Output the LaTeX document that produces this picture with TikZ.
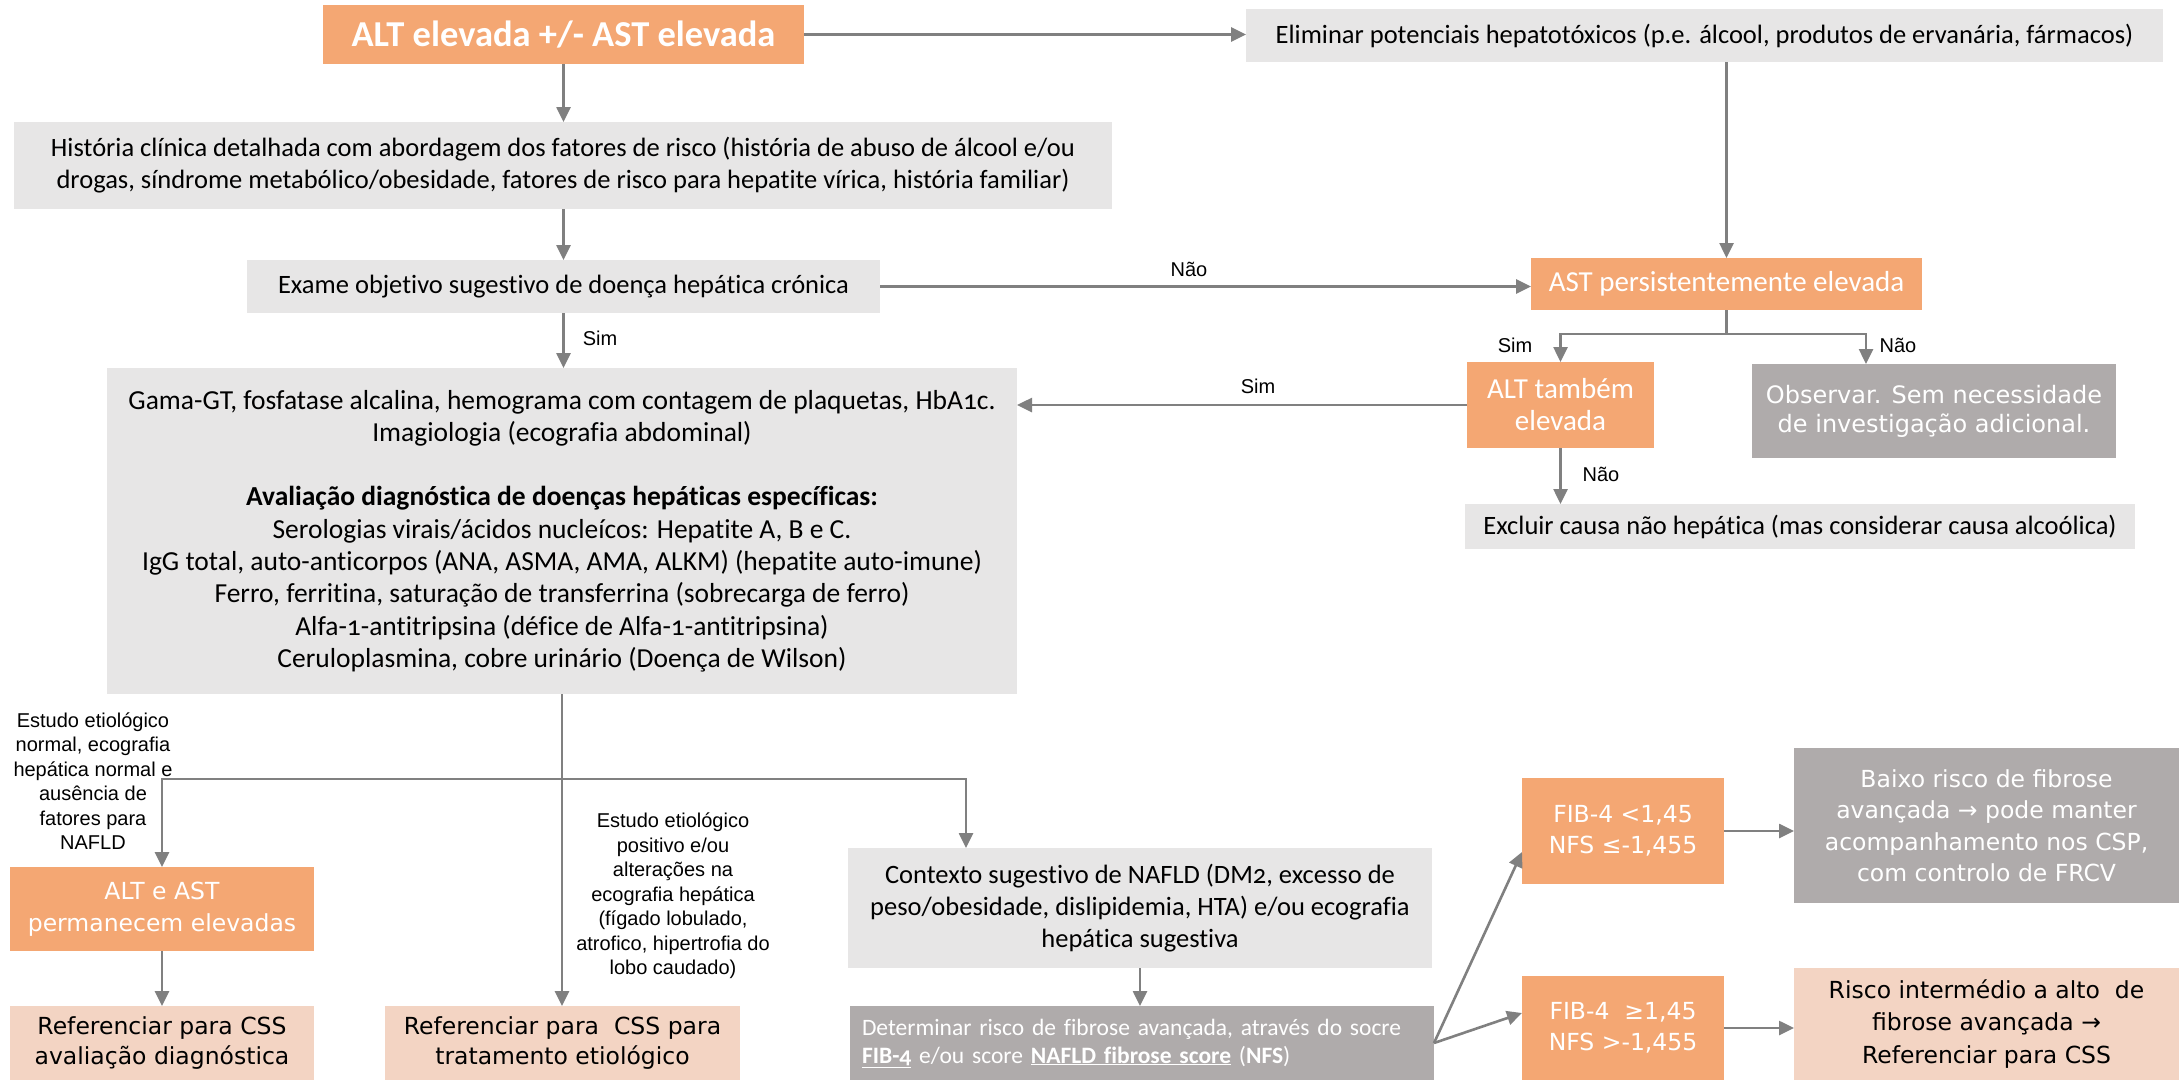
\documentclass[tikz,border=0pt]{standalone}
\usepackage{fontspec}
\setmainfont[Numbers=OldStyle,Ligatures=NoCommon]{Carlito}
\newfontfamily\dv{DejaVu Sans}
\newfontfamily\ar{Liberation Sans}
\usetikzlibrary{arrows.meta}
\definecolor{org}{HTML}{F4A773}
\definecolor{lgr}{HTML}{E7E6E6}
\definecolor{mgr}{HTML}{AFABAB}
\definecolor{pch}{HTML}{F3D4C3}
\definecolor{ln}{HTML}{808080}
\tikzset{
  wh/.style 2 args={minimum width=#1pt, minimum height=#2pt},
  box/.style={inner sep=0pt, outer sep=0pt, align=center, anchor=north west},
  light/.style={box, fill=lgr, text=black, font=\fontsize{26.5}{32}\selectfont},
  orgc/.style={box, fill=org, text=white, font=\fontsize{29}{32}\selectfont},
  orgd/.style={box, fill=org, text=white, font=\dv\fontsize{23.5}{31.5}\selectfont},
  pchd/.style={box, fill=pch, text=black, font=\dv\fontsize{23.5}{31.5}\selectfont},
  midd/.style={box, fill=mgr, text=white, font=\dv\fontsize{23.5}{31.5}\selectfont},
  lbl/.style={inner sep=0pt, align=center, font=\ar\fontsize{20}{24.5}\selectfont},
  arr/.style={draw=ln, line width=2.6pt, -{Triangle[length=15pt,width=14pt]}},
  ln/.style={draw=ln, line width=2.6pt}
}
\begin{document}
\begin{tikzpicture}[x=1pt,y=-1pt]
\useasboundingbox (0,0) rectangle (2179,1080);
\fill[white] (0,0) rectangle (2179,1080);

\node[orgc, font=\bfseries\fontsize{36.5}{40}\selectfont, wh={481}{59}] (alt) at (323,5) {ALT elevada +/- AST elevada};
\node[light, wh={917}{53}] (elim) at (1246,9) {Eliminar potenciais hepatotóxicos (p.e. álcool, produtos de ervanária, fármacos)};
\node[light, wh={1098}{87}] (hist) at (14,122) {História clínica detalhada com abordagem dos fatores de risco (história de abuso de álcool e/ou\\drogas, síndrome metabólico/obesidade, fatores de risco para hepatite vírica, história familiar)};
\node[light, wh={633}{53}] (exame) at (247,260) {Exame objetivo sugestivo de doença hepática crónica};
\node[orgc, wh={391}{52}] (ast) at (1531,258) {AST persistentemente elevada};
\node[light, font=\fontsize{27.5}{32.3}\selectfont, wh={910}{326}] (gama) at (107,368) {Gama-GT, fosfatase alcalina, hemograma com contagem de plaquetas, HbA1c.\\Imagiologia (ecografia abdominal)\\[32pt]
\textbf{Avaliação diagnóstica de doenças hepáticas específicas:}\\
Serologias virais/ácidos nucleícos: Hepatite A, B e C.\\
IgG total, auto-anticorpos (ANA, ASMA, AMA, ALKM) (hepatite auto-imune)\\
Ferro, ferritina, saturação de transferrina (sobrecarga de ferro)\\
Alfa-1-antitripsina (défice de Alfa-1-antitripsina)\\
Ceruloplasmina, cobre urinário (Doença de Wilson)};
\node[orgc, wh={187}{86}] (altt) at (1467,362) {ALT também\\elevada};
\node[midd, font=\dv\fontsize{24}{29}\selectfont, wh={364}{94}] (obs) at (1752,364) {Observar. Sem necessidade\\de investigação adicional.};
\node[light, wh={670}{45}] (excl) at (1465,504) {Excluir causa não hepática (mas considerar causa alcoólica)};
\node[orgd, wh={304}{84}] (altast) at (10,867) {ALT e AST\\permanecem elevadas};
\node[pchd, font=\dv\fontsize{23.5}{30}\selectfont, wh={304}{74}] (refa) at (10,1006) {Referenciar para CSS\\avaliação diagnóstica};
\node[pchd, font=\dv\fontsize{23.5}{30}\selectfont, wh={355}{74}] (reft) at (385,1006) {Referenciar para~ CSS para\\tratamento etiológico};
\node[light, wh={584}{120}] (ctx) at (848,848) {Contexto sugestivo de NAFLD (DM2, excesso de\\peso/obesidade, dislipidemia, HTA) e/ou ecografia\\hepática sugestiva};
\node[box, fill=mgr, text=white, font=\fontsize{23.5}{28}\selectfont, align=left, text width=560pt, inner xsep=12pt, minimum height=74pt] (det) at (850,1006) {Determinar risco de fibrose avançada, através do socre\\\underline{\textbf{FIB-4}} e/ou score \underline{\textbf{NAFLD fibrose score}} (\textbf{NFS})};
\node[orgd, wh={202}{106}] (fib1) at (1522,778) {FIB-4 <1,45\\NFS ≤-1,455};
\node[orgd, wh={202}{104}] (fib2) at (1522,976) {FIB-4~ ≥1,45\\NFS >-1,455};
\node[midd, wh={385}{155}] (baixo) at (1794,748) {Baixo risco de fibrose\\avançada → pode manter\\acompanhamento nos CSP,\\com controlo de FRCV};
\node[pchd, font=\dv\fontsize{23.5}{32.5}\selectfont, wh={385}{112}] (risco) at (1794,968) {Risco intermédio a alto~ de\\fibrose avançada →\\Referenciar para CSS};

\node[lbl] (nao1) at (1189,269) {Não};
\node[lbl] (sim1) at (600,338) {Sim};
\node[lbl] (sim2) at (1515,345) {Sim};
\node[lbl] (nao2) at (1898,345) {Não};
\node[lbl] (sim3) at (1258,386) {Sim};
\node[lbl] (nao3) at (1601,474) {Não};
\node[lbl] (et1) at (93,781) {Estudo etiológico\\normal, ecografia\\hepática normal e\\ausência de\\fatores para\\NAFLD};
\node[lbl] (et2) at (673,896) {Estudo etiológico\\positivo e/ou\\alterações na\\ecografia hepática\\(fígado lobulado,\\atrofico, hipertrofia do\\lobo caudado)};

\coordinate (brY) at (0,779);
\draw[arr] (alt.east) -- (alt.east -| elim.west);
\draw[arr] (alt.south) -- (alt.south |- hist.north);
\draw[arr] (hist.south -| alt.south) -- (alt.south |- exame.north);
\draw[arr] (exame.east) -- (exame.east -| ast.west);
\draw[arr] (elim.south -| ast.north) -- (ast.north);
\draw[arr] (exame.south) -- (exame.south |- gama.north);
\draw[arr] (ast.south) -- ++(0,24) -| (altt.north);
\draw[arr] (ast.south) -- ++(0,24) -| ([xshift=-68pt]obs.north);
\draw[arr] (altt.west) -- (altt.west -| gama.east);
\draw[arr] (altt.south) -- (altt.south |- excl.north);
\draw[arr] (gama.south) -- (gama.south |- reft.north);
\draw[arr] (gama.south |- brY) -| (altast.north);
\draw[arr] (gama.south |- brY) -| ([xshift=-174pt]ctx.north);
\draw[arr] (altast.south) -- (refa.north);
\draw[arr] (ctx.south) -- (ctx.south |- det.north);
\draw[arr] (det.east) -- ([yshift=-21pt]fib1.west);
\draw[arr] (det.east) -- ([yshift=15pt]fib2.west);
\draw[arr] (fib1.east) -- (fib1.east -| baixo.west);
\draw[arr] (fib2.east) -- (fib2.east -| risco.west);
\end{tikzpicture}
\end{document}
